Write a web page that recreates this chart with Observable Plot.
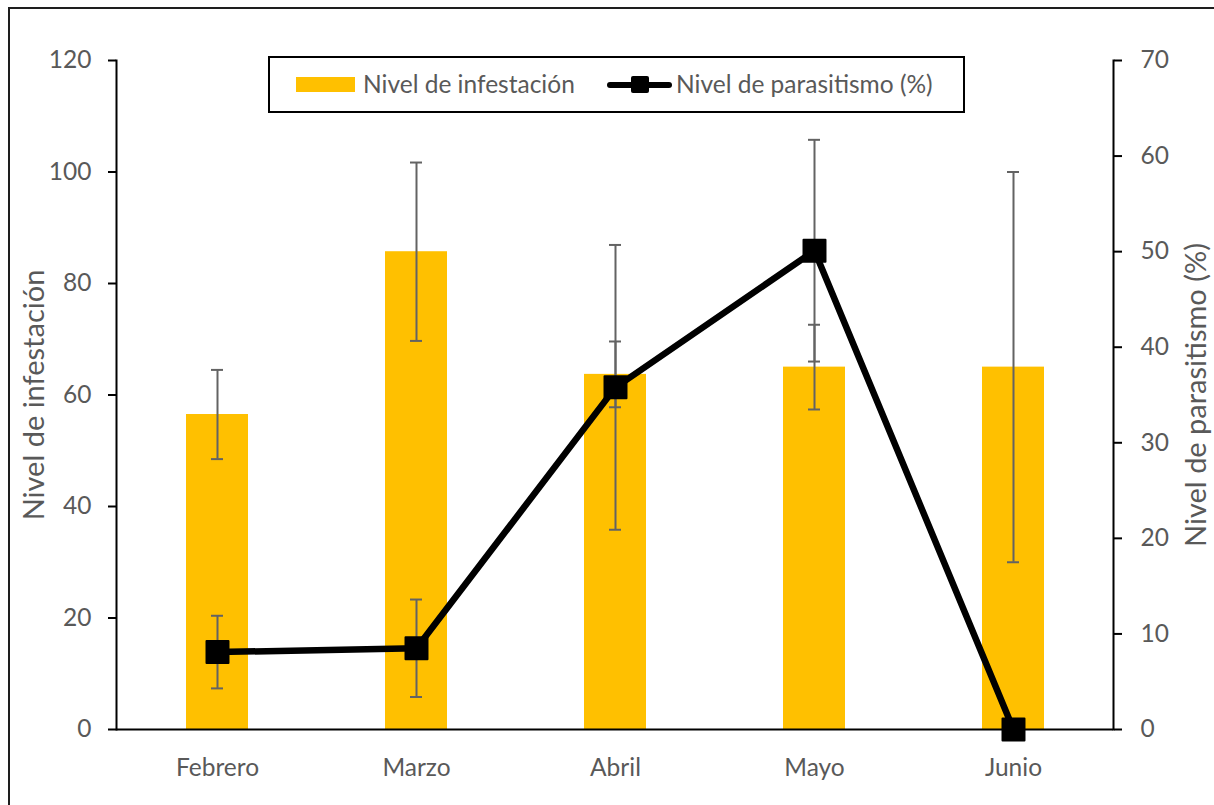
<!DOCTYPE html>
<html>
<head>
<meta charset="utf-8">
<script src="https://cdn.jsdelivr.net/npm/d3@7"></script>
<script src="https://cdn.jsdelivr.net/npm/@observablehq/plot@0.6"></script>
<style>
html, body { margin: 0; padding: 0; background: #fff; overflow: hidden; width: 1214px; height: 805px; }
#wrap { position: relative; width: 1214px; height: 805px; }
#frame { position: absolute; left: 8px; top: 7px; width: 1300px; height: 900px; border: 2px solid #1e1e1e; box-sizing: border-box; pointer-events: none; }
g[aria-label$="tick label"] { fill: #595959; }
#legend { position: absolute; left: 268px; top: 56px; width: 697px; height: 57px; border: 2px solid #000; box-sizing: border-box; background: #fff; font-family: Lato, sans-serif; font-size: 24.5px; color: #595959; }
#legend .sw { position: absolute; left: 26px; top: 19px; width: 59px; height: 15px; background: #FFC000; }
#legend .t { position: absolute; top: 11px; height: 30px; line-height: 30px; white-space: nowrap; }
#legend .ln { position: absolute; left: 337px; top: 23.5px; width: 65px; height: 6px; background: #000; border-radius: 3px; }
#legend .mk { position: absolute; left: 361px; top: 18px; width: 18px; height: 17px; background: #000; border-radius: 2px; }
</style>
</head>
<body>
<div id="wrap">
  <div id="chart"></div>
  <div id="legend"></div>
  <div id="frame"></div>
</div>
<script>
const months = ["Febrero", "Marzo", "Abril", "Mayo", "Junio"];
const infestacion = [56.5, 85.7, 63.7, 65.0, 65.0];
const infestacionErr = [8.0, 16.0, 5.9, 7.6, 35.0];
const parasitismo = [8.1, 8.5, 35.8, 50.1, 0];
const parasitismoErr = [3.8, 5.1, 14.9, 11.6, 0];
const leftTicks = [0, 20, 40, 60, 80, 100, 120];
const rightTicks = [0, 10, 20, 30, 40, 50, 60, 70];
const seriesNames = ["Nivel de infestación", "Nivel de parasitismo (%)"];
const leftTitle = ["Nivel de infestación"];
const rightTitle = ["Nivel de parasitismo (%)"];

const leftMax = leftTicks[leftTicks.length - 1];
const rightMax = rightTicks[rightTicks.length - 1];
const k = leftMax / rightMax;

const rows = months.map((m, i) => ({
  month: m,
  inf: infestacion[i],
  infErr: infestacionErr[i],
  par: parasitismo[i] * k,
  parErr: parasitismoErr[i] * k
}));
const parRows = rows.filter(d => d.parErr > 0);
const errColor = "#636363";

const plot = Plot.plot({
  width: 1214,
  height: 805,
  marginLeft: 116,
  marginRight: 101,
  marginTop: 60,
  marginBottom: 76,
  style: { fontFamily: "Lato, sans-serif", fontSize: "24.5px", background: "transparent", color: "black" },
  x: { domain: months, paddingInner: 0.69, paddingOuter: 0.345, label: null },
  y: { domain: [0, leftMax], label: null },
  marks: [
    Plot.barY(rows, { x: "month", y: "inf", fill: "#FFC000" }),
    // bar error bars
    Plot.ruleX(rows, { x: "month", y1: d => d.inf - d.infErr, y2: d => d.inf + d.infErr, stroke: errColor, strokeWidth: 2 }),
    Plot.tickY(rows, { x: "month", y: d => d.inf - d.infErr, stroke: errColor, strokeWidth: 2, insetLeft: 25, insetRight: 25 }),
    Plot.tickY(rows, { x: "month", y: d => d.inf + d.infErr, stroke: errColor, strokeWidth: 2, insetLeft: 25, insetRight: 25 }),
    // line error bars
    Plot.ruleX(parRows, { x: "month", y1: d => d.par - d.parErr, y2: d => d.par + d.parErr, stroke: errColor, strokeWidth: 2 }),
    Plot.tickY(parRows, { x: "month", y: d => d.par - d.parErr, stroke: errColor, strokeWidth: 2, insetLeft: 25, insetRight: 25 }),
    Plot.tickY(parRows, { x: "month", y: d => d.par + d.parErr, stroke: errColor, strokeWidth: 2, insetLeft: 25, insetRight: 25 }),
    // axes lines
    Plot.ruleY([0], { stroke: "black", strokeWidth: 2 }),
    Plot.frame({ anchor: "left", stroke: "black", strokeWidth: 2 }),
    Plot.frame({ anchor: "right", stroke: "black", strokeWidth: 2 }),
    // line + markers
    Plot.lineY(rows, { x: "month", y: "par", stroke: "black", strokeWidth: 6.5, strokeLinejoin: "round" }),
    Plot.dot(rows, { x: "month", y: "par", symbol: "square", r: 12.4, fill: "black", stroke: "black", strokeWidth: 2, strokeLinejoin: "round" }),
    // axes
    Plot.axisY(leftTicks, { anchor: "left", tickSize: 8, tickPadding: 17, strokeWidth: 2, label: null }),
    Plot.axisY(rightTicks.map(v => v * k), { anchor: "right", tickSize: 8, tickPadding: 19, strokeWidth: 2, tickFormat: d => String(Math.round(d / k)), label: null }),
    Plot.axisX({ tickSize: 0, tickPadding: 29, label: null }),
    // axis titles
    Plot.text(leftTitle, { frameAnchor: "left", textAnchor: "middle", rotate: -90, dx: -82, lineAnchor: "middle", fontSize: 29, fill: "#595959" }),
    Plot.text(rightTitle, { frameAnchor: "right", textAnchor: "middle", rotate: -90, dx: 83, lineAnchor: "middle", fontSize: 29, fill: "#595959" })
  ]
});
document.getElementById("chart").appendChild(plot);

const legend = document.getElementById("legend");
legend.innerHTML =
  `<div class="sw"></div><div class="t" style="left:93px">${seriesNames[0]}</div>` +
  `<div class="ln"></div><div class="mk"></div><div class="t" style="left:406px">${seriesNames[1]}</div>`;
</script>
</body>
</html>
